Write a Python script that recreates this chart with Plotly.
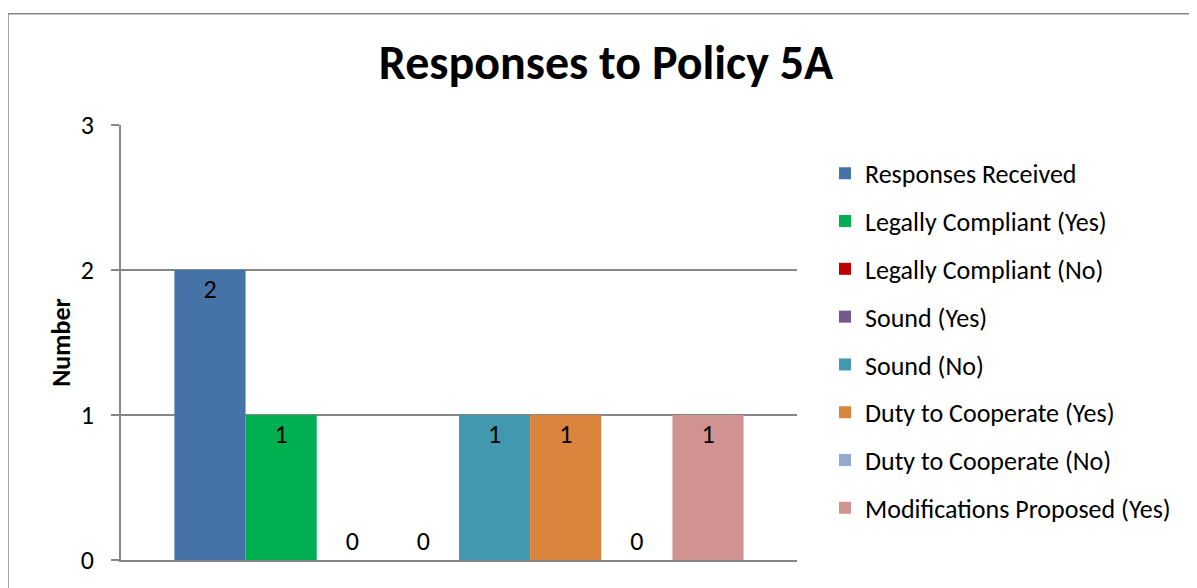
import plotly.graph_objects as go

category = ["Policy 5A"]
series_names = [
    "Responses Received",
    "Legally Compliant (Yes)",
    "Legally Compliant (No)",
    "Sound (Yes)",
    "Sound (No)",
    "Duty to Cooperate (Yes)",
    "Duty to Cooperate (No)",
    "Modifications Proposed (Yes)",
]
series_values = [2, 1, 0, 0, 1, 1, 0, 1]
series_colors = ["#4572A7", "#00B050", "#C00000", "#71588F",
                 "#4198AF", "#DB843D", "#93A9CF", "#D19392"]
y_ticks = [0, 1, 2, 3]

FONT = "Carlito, Calibri, Lato, sans-serif"
GRAY = "#878787"

OFF = 8  # page body margin
W, H = 1197 - OFF, 588 - OFF
L, R, T, B = 121 - OFF, 797 - OFF, 125 - OFF, 563 - OFF

fig = go.Figure()
for i, (name, val, col) in enumerate(zip(series_names, series_values, series_colors)):
    fig.add_trace(go.Bar(
        x=category, y=[val], name=name, legendgroup=f"g{i}",
        marker=dict(color=col, line=dict(width=0)),
        text=[str(val)],
        textposition="inside" if val > 0 else "outside",
        insidetextanchor="end",
        textfont=dict(family=FONT, size=26, color="black"),
        insidetextfont=dict(family=FONT, size=26, color="black"),
        outsidetextfont=dict(family=FONT, size=26, color="black"),
        cliponaxis=False,
        hoverinfo="skip",
    ))

def px_x(p):
    return (p - OFF - L) / (R - L)

def px_y(p):
    return (B - (p - OFF)) / (B - T)

fig.update_layout(
    width=W, height=H,
    margin=dict(l=L, r=W - R, t=T, b=H - B, pad=0),
    paper_bgcolor="white", plot_bgcolor="white",
    barmode="group", bargap=0.158, bargroupgap=0,
    font=dict(family=FONT, size=26, color="black"),
    title=dict(text="<b>Responses to Policy 5A</b>", x=(606 - OFF) / W, xref="container",
               xanchor="center", y=1 - (62 - OFF) / H, yref="container", yanchor="middle",
               font=dict(family=FONT, size=48, color="black")),
    showlegend=True,
    legend=dict(x=px_x(825), xanchor="left", y=px_y(150), yanchor="top",
                font=dict(family=FONT, size=26, color="black"),
                tracegroupgap=11, traceorder="grouped", bgcolor="rgba(0,0,0,0)"),
    xaxis=dict(showticklabels=False, ticks="", showline=True, linecolor=GRAY,
               linewidth=1.5, range=[-0.5, 0.5], fixedrange=True),
    yaxis=dict(range=[0, 3], tickvals=y_ticks, ticks="outside", ticklen=8,
               tickcolor=GRAY, tickwidth=1.5, showline=True, linecolor=GRAY,
               linewidth=1.5, showgrid=True, gridcolor=GRAY, gridwidth=1.5,
               zeroline=False, ticklabelstandoff=12,
               tickfont=dict(family=FONT, size=26, color="black"),
               title=dict(text="<b>Number</b>", standoff=3,
                          font=dict(family=FONT, size=26, color="black"))),
    shapes=[dict(type="rect", xref="paper", yref="paper",
                 x0=px_x(8), x1=px_x(1260), y0=px_y(640), y1=px_y(13),
                 line=dict(color=GRAY, width=1.5), layer="below")],
)

fig.write_html("out.html")
